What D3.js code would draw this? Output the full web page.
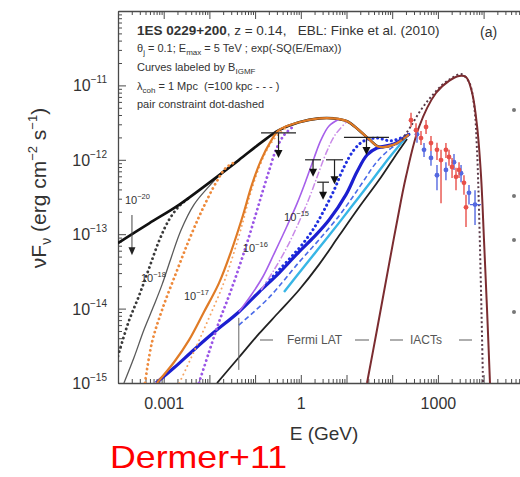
<!DOCTYPE html>
<html><head><meta charset="utf-8">
<script src="https://cdn.jsdelivr.net/npm/d3@7"></script>
<style>body{margin:0;background:#fff}svg{display:block}text{font-family:"Liberation Sans",Arial,sans-serif}</style>
</head><body><svg id="c" width="520" height="477"></svg>
<script>
// ---------- axis ticks ----------
const xTickValues = [1e-3, 1, 1e3];
const xTickLabels = ["0.001", "1", "1000"];
const yTickValues = [1e-11, 1e-12, 1e-13, 1e-14, 1e-15];
const yTickExps = ["-11", "-12", "-13", "-14", "-15"];

// ---------- shared high-energy envelope ----------
const envE = [0.333, 0.914, 2.5, 5.3, 10.3, 18.8, 31, 51, 109, 233];
const envF = [2.5e-12, 3.2e-12, 3.6e-12, 3.6e-12, 3.3e-12, 2.5e-12, 1.9e-12, 1.5e-12, 1.6e-12, 2.2e-12];

// ---------- cascade curves ----------
const b20SolidE = [1e-4, 4.8e-4, 2.2e-3, 9.8e-3, 4.4e-2, 0.135];
const b20SolidF = [7.6e-14, 1.4e-13, 2.5e-13, 4.9e-13, 9.9e-13, 1.7e-12];
const b20DotE = [1e-4, 1.7e-4, 2.9e-4, 4.8e-4, 7.9e-4, 1.3e-3, 2.2e-3, 3.6e-3];
const b20DotF = [2.3e-15, 6.6e-15, 1.5e-14, 3.5e-14, 8.1e-14, 1.55e-13, 2.4e-13, 3.07e-13];
const b18GrayE = [1.35e-4, 2.24e-4, 3.7e-4, 6.1e-4, 9.2e-4, 1.45e-3, 2.4e-3, 4.6e-3, 9.8e-3, 2.1e-2];
const b18GrayF = [1e-15, 2.2e-15, 5.2e-15, 1.1e-14, 2.1e-14, 4.8e-14, 1.14e-13, 2.5e-13, 4.4e-13, 7.3e-13];
const orangeDotE = [3.9e-4, 5.5e-4, 9.2e-4, 1.86e-3, 3.6e-3, 6.9e-3, 1.39e-2, 2.3e-2, 4.0e-2];
const orangeDotF = [1e-15, 3.45e-15, 9.6e-15, 3.0e-14, 8.4e-14, 2.1e-13, 4.9e-13, 7.8e-13, 9.6e-13];
const orangeSolidE = [7.1e-4, 1.68e-3, 3.6e-3, 7.6e-3, 1.62e-2, 2.97e-2, 5.2e-2, 8.5e-2, 0.135, 0.212];
const orangeSolidF = [1e-15, 1.9e-15, 3.8e-15, 9.0e-15, 2.2e-14, 5.8e-14, 1.65e-13, 4.6e-13, 9.9e-13, 1.7e-12];
const orangeLightE = [2.2e-3, 4.8e-3, 9.8e-3, 1.9e-2, 3.3e-2, 5.4e-2, 8.1e-2, 0.122, 0.182, 0.30, 0.50];
const orangeLightF = [1e-15, 2.8e-15, 7.5e-15, 1.95e-14, 5.2e-14, 1.46e-13, 3.7e-13, 7.8e-13, 1.36e-12, 2.1e-12, 2.76e-12];
const purpleDotE = [5.9e-3, 9.8e-3, 1.62e-2, 2.7e-2, 4.4e-2, 7.0e-2, 0.105, 0.149, 0.212, 0.286, 0.43, 0.71];
const purpleDotF = [1e-15, 2.6e-15, 6.6e-15, 1.5e-14, 3.5e-14, 8.4e-14, 1.9e-13, 3.9e-13, 7.8e-13, 1.36e-12, 2.15e-12, 2.85e-12];
const violetE = [4.4e-2, 8.1e-2, 0.149, 0.272, 0.50, 0.83, 1.30, 1.95, 2.77, 4.14, 6.85];
const violetF = [9.0e-15, 1.5e-14, 2.7e-14, 5.8e-14, 1.29e-13, 2.6e-13, 5.3e-13, 1.06e-12, 1.85e-12, 2.85e-12, 3.5e-12];
const violet2E = [0.135, 0.259, 0.50, 0.914, 1.59, 2.50, 3.74, 5.6, 9.75];
const violet2F = [1.78e-14, 3.3e-14, 6.7e-14, 1.46e-13, 3.26e-13, 6.9e-13, 1.31e-12, 2.15e-12, 3.2e-12];
const blueDotE = [0.182, 0.333, 0.61, 1.06, 1.95, 3.22, 5.33, 8.83, 14.6, 24.2, 46.5, 94, 233];
const blueDotF = [2.2e-14, 3.3e-14, 4.9e-14, 7.2e-14, 1.21e-13, 2.1e-13, 3.9e-13, 8.0e-13, 1.36e-12, 1.8e-12, 1.96e-12, 1.8e-12, 2.2e-12];
const blueSolidE = [6.8e-4, 1.68e-3, 4.6e-3, 1.26e-2, 4.4e-2, 0.122, 0.333, 0.914, 1.95, 4.14, 9.75, 17.0, 28.1, 46.5, 109, 233];
const blueSolidF = [1e-15, 1.6e-15, 2.8e-15, 4.8e-15, 9.0e-15, 1.67e-14, 3.0e-14, 5.8e-14, 9.2e-14, 1.55e-13, 3.4e-13, 6.9e-13, 1.16e-12, 1.44e-12, 1.63e-12, 2.2e-12];
const blueDashE = [4.4e-2, 0.20, 0.914, 2.50, 6.85, 13.2, 24.2, 44.2, 85, 181];
const blueDashF = [6.0e-15, 1.4e-14, 4.2e-14, 8.4e-14, 1.76e-13, 3.07e-13, 5.3e-13, 9.1e-13, 1.36e-12, 1.85e-12];
const cyanE = [0.43, 0.914, 2.50, 6.85, 16.1, 36.1, 85, 200];
const cyanF = [1.67e-14, 3.0e-14, 6.5e-14, 1.42e-13, 2.8e-13, 5.3e-13, 1.06e-12, 2.0e-12];
const blackLowE = [1.47e-2, 4.4e-2, 0.122, 0.333, 0.914, 2.50, 6.85, 18.8, 51, 109, 211];
const blackLowF = [1e-15, 2.2e-15, 4.6e-15, 9.0e-15, 1.78e-14, 3.9e-14, 9.5e-14, 2.3e-13, 5.3e-13, 1.06e-12, 1.9e-12];

// ---------- intrinsic spectra ----------
const brownE = [28.1, 46.5, 85, 127, 200, 386, 908, 1750, 2900, 4120, 5570, 7170, 8770, 10200, 11900, 13800];
const brownF = [1e-15, 5.2e-15, 3.9e-14, 1.46e-13, 5.9e-13, 2.76e-12, 7.9e-12, 1.15e-11, 1.34e-11, 1.30e-11, 8.1e-12, 2.9e-12, 6.2e-13, 8.4e-14, 9.6e-15, 1e-15];
const dottedE = [164, 258, 427, 706, 1230, 2040, 3210, 4790, 6170, 7170, 7930, 8770, 9710];
const dottedF = [1.85e-12, 2.85e-12, 4.7e-12, 7.0e-12, 1.01e-11, 1.26e-11, 1.42e-11, 1.11e-11, 5.5e-12, 1.36e-12, 2.1e-13, 1.78e-14, 1e-15];

// ---------- IACT data ----------
const redE = [258, 332, 427, 550, 706, 955, 1170, 1500, 1750, 2040, 2490, 2900, 3720, 4120];
const redF = [3.4e-12, 2.5e-12, 1.96e-12, 2.76e-12, 1.68e-12, 1.36e-12, 9.9e-13, 1.36e-12, 1.09e-12, 8.0e-13, 5.9e-13, 7.3e-13, 4.9e-13, 2.3e-13];
const redLo = [2.76e-12, 2.0e-12, 1.58e-12, 2.22e-12, 1.31e-12, 9.9e-13, 2.6e-13, 1.06e-12, 8.3e-13, 5.7e-13, 3.9e-13, 5.7e-13, 3.4e-13, 1.25e-13];
const redHi = [4.3e-12, 3.1e-12, 2.44e-12, 3.43e-12, 2.09e-12, 1.70e-12, 1.36e-12, 1.68e-12, 1.36e-12, 1.06e-12, 7.8e-13, 9.3e-13, 6.2e-13, 3.4e-13];
const blueE = [349, 497, 706, 955, 1500, 2250, 3210, 4790, 6490];
const blueF = [2.2e-12, 1.36e-12, 1.06e-12, 6.2e-13, 7.3e-13, 9.3e-13, 6.6e-13, 3.6e-13, 2.5e-13];
const blueLo = [1.7e-12, 1.09e-12, 8.3e-13, 3.9e-13, 5.3e-13, 7.3e-13, 5.0e-13, 2.5e-13, 1.33e-13];
const blueHi = [2.67e-12, 1.68e-12, 1.31e-12, 8.5e-13, 9.3e-13, 1.2e-12, 8.5e-13, 4.6e-13, 3.9e-13];

// ---------- Fermi upper limits ----------
const ulLo = [0.135, 1.24, 2.28, 3.56, 8.8];
const ulHi = [0.785, 2.77, 4.14, 8.4, 85];
const ulF = [2.3e-12, 1.0e-12, 5.0e-13, 1.0e-12, 2.0e-12];
const ulTip = [1.06e-12, 5.9e-13, 2.9e-13, 4.7e-13, 1.16e-12];

// ---------- curve labels (B in G) ----------
const labelExp = ["-20", "-18", "-17", "-16", "-15"];
const labelE = [1.42e-4, 3.18e-4, 2.78e-3, 5.4e-2, 0.43];
const labelF = [2.55e-13, 2.28e-14, 1.3e-14, 5.8e-14, 1.5e-13];

// ================= drawing =================
const svg = d3.select("#c");
const x = d3.scaleLog().domain([1e-4, 1e5]).range([118, 529.3]);
const y = d3.scaleLog().domain([1e-15, 1e-10]).range([383, 11]);
const X0 = 118, X1 = 529.3, Y0 = 383, Y1 = 11;

svg.append("rect").attr("width", 520).attr("height", 477).attr("fill", "#fff");
svg.append("defs").append("clipPath").attr("id", "plot")
  .append("rect").attr("x", X0).attr("y", Y1).attr("width", X1 - X0).attr("height", Y0 - Y1);

// axes
const decX = d3.range(-4, 6).map(e => Math.pow(10, e));
const decY = d3.range(-15, -9).map(e => Math.pow(10, e));
const minorX = [], minorY = [];
d3.range(-4, 5).forEach(e => d3.range(2, 10).forEach(m => minorX.push(m * Math.pow(10, e))));
d3.range(-15, -10).forEach(e => d3.range(2, 10).forEach(m => minorY.push(m * Math.pow(10, e))));
const axCol = "#4a4a4a";
function styleAxis(sel) {
  sel.selectAll("line").attr("stroke", axCol).attr("stroke-width", 1);
  sel.selectAll(".domain").attr("stroke", axCol).attr("stroke-width", 1.3);
}
const xLabel = d => { const i = xTickValues.findIndex(v => Math.abs(Math.log10(v) - Math.log10(d)) < 1e-6); return i >= 0 ? xTickLabels[i] : ""; };
svg.append("g").attr("transform", `translate(0,${Y0})`)
  .call(d3.axisBottom(x).tickValues(decX).tickSize(-8).tickSizeOuter(0).tickPadding(15).tickFormat(xLabel))
  .call(styleAxis)
  .call(g => g.selectAll("text").attr("font-size", 16).attr("fill", "#333").attr("font-family", "Liberation Sans, Arial, sans-serif"));
svg.append("g").attr("transform", `translate(0,${Y0})`)
  .call(d3.axisBottom(x).tickValues(minorX).tickSize(-4).tickFormat(""))
  .call(g => g.select(".domain").remove()).call(styleAxis);
svg.append("g").attr("transform", `translate(0,${Y1})`)
  .call(d3.axisTop(x).tickValues(decX).tickSize(-8).tickSizeOuter(0).tickFormat("")).call(styleAxis);
svg.append("g").attr("transform", `translate(0,${Y1})`)
  .call(d3.axisTop(x).tickValues(minorX).tickSize(-4).tickFormat(""))
  .call(g => g.select(".domain").remove()).call(styleAxis);
svg.append("g").attr("transform", `translate(${X0},0)`)
  .call(d3.axisLeft(y).tickValues(decY).tickSize(-8).tickSizeOuter(0).tickFormat("")).call(styleAxis);
svg.append("g").attr("transform", `translate(${X0},0)`)
  .call(d3.axisLeft(y).tickValues(minorY).tickSize(-4).tickFormat(""))
  .call(g => g.select(".domain").remove()).call(styleAxis);
svg.append("g").attr("transform", `translate(${X1},0)`)
  .call(d3.axisRight(y).tickValues(decY).tickSize(-8).tickSizeOuter(0).tickFormat("")).call(styleAxis);

// y tick labels
yTickValues.forEach((v, i) => {
  const t = svg.append("text").attr("x", 107).attr("y", y(v) + 6).attr("text-anchor", "end").attr("fill", "#333");
  t.append("tspan").attr("font-size", 16).text("10");
  t.append("tspan").attr("font-size", 10).attr("dy", -8).text(yTickExps[i].replace("-", "\u2212"));
});

// axis titles
svg.append("text").attr("x", 324).attr("y", 440).attr("text-anchor", "middle")
  .attr("font-size", 19).attr("fill", "#333").text("E (GeV)");
const yl = svg.append("text").attr("transform", "translate(46,188) rotate(-90)")
  .attr("text-anchor", "middle").attr("font-size", 21).attr("fill", "#333");
yl.append("tspan").text("\u03bdF");
yl.append("tspan").attr("font-size", 14).attr("dy", 5).text("\u03bd");
yl.append("tspan").attr("dy", -5).text(" (erg cm");
yl.append("tspan").attr("font-size", 13).attr("dy", -9).text("\u22122");
yl.append("tspan").attr("dy", 9).text(" s");
yl.append("tspan").attr("font-size", 13).attr("dy", -9).text("\u22121");
yl.append("tspan").attr("dy", 9).text(")");

// curves
const g = svg.append("g").attr("clip-path", "url(#plot)");
const line = d3.line().x(d => x(d[0])).y(d => y(d[1])).curve(d3.curveCatmullRom.alpha(0.5));
function curve(E, F, c, w, dash, cap) {
  g.append("path").datum(d3.zip(E, F)).attr("d", line).attr("fill", "none")
    .attr("stroke", c).attr("stroke-width", w)
    .attr("stroke-dasharray", dash || null).attr("stroke-linecap", cap || "butt")
    .attr("stroke-linejoin", "round");
}
const DOT = "0.1,4.6";
curve(b18GrayE, b18GrayF, "#5a5a5a", 1.3);
curve(b20DotE, b20DotF, "#3a3a3a", 2.8, DOT, "round");
curve(b20SolidE.concat(envE), b20SolidF.concat(envF), "#111", 2.6);
curve(blackLowE, blackLowF, "#222", 1.8);
curve(cyanE, cyanF, "#38b6e6", 2.4);
curve(blueDashE, blueDashF, "#4a6ae8", 1.6, "5,3");
curve(blueSolidE, blueSolidF, "#1c1fd0", 3.2);
curve(blueDotE, blueDotF, "#2030e0", 3, DOT, "round");
curve(violet2E, violet2F, "#c98ae8", 1.5, "7,2,1.5,2");
curve(violetE, violetF, "#a660ea", 1.6);
curve(purpleDotE, purpleDotF, "#9a55e6", 2.8, DOT, "round");
curve(orangeLightE, orangeLightF, "#f5a564", 1.9, DOT, "round");
curve(orangeDotE, orangeDotF, "#ee8a3c", 2.8, DOT, "round");
curve(orangeSolidE.concat(envE), orangeSolidF.concat(envF), "#e07b26", 2.2);
curve(dottedE, dottedF, "#5a3a48", 2, "2,2.5");
curve(brownE, brownF, "#7b2c30", 2);

// IACT data
const pts = svg.append("g").attr("clip-path", "url(#plot)");
function dataSet(E, F, lo, hi, col) {
  E.forEach((e, i) => {
    pts.append("line").attr("x1", x(e)).attr("x2", x(e)).attr("y1", y(lo[i])).attr("y2", y(hi[i]))
      .attr("stroke", col).attr("stroke-width", 1.4);
    pts.append("circle").attr("cx", x(e)).attr("cy", y(F[i])).attr("r", 2.4).attr("fill", col);
  });
}
dataSet(blueE, blueF, blueLo, blueHi, "#5468e0");
dataSet(redE, redF, redLo, redHi, "#e8504a");
pts.append("line").attr("x1", x(blueE[8]) - 5).attr("x2", x(blueE[8]) + 6)
  .attr("y1", y(blueF[8])).attr("y2", y(blueF[8])).attr("stroke", "#5468e0").attr("stroke-width", 1.4);

// upper limits
const ul = svg.append("g");
ulLo.forEach((lo, i) => {
  const xc = x(Math.sqrt(lo * ulHi[i]));
  ul.append("line").attr("x1", x(lo)).attr("x2", x(ulHi[i])).attr("y1", y(ulF[i])).attr("y2", y(ulF[i]))
    .attr("stroke", "#222").attr("stroke-width", 1.2);
  ul.append("line").attr("x1", xc).attr("x2", xc).attr("y1", y(ulF[i])).attr("y2", y(ulTip[i]) - 6)
    .attr("stroke", "#222").attr("stroke-width", 1.2);
  const ty = y(ulTip[i]);
  ul.append("path").attr("d", `M${xc - 4},${ty - 8}L${xc + 4},${ty - 8}L${xc},${ty}Z`).attr("fill", "#111");
});

// annotation pointers
const ptrX = x(2.02e-4), ptrTop = y(1.81e-13), ptrTip = y(5.2e-14);
svg.append("line").attr("x1", ptrX).attr("x2", ptrX).attr("y1", ptrTop).attr("y2", ptrTip - 6).attr("stroke", "#444").attr("stroke-width", 1);
svg.append("path").attr("d", `M${ptrX - 3.5},${ptrTip - 8}L${ptrX + 3.5},${ptrTip - 8}L${ptrX},${ptrTip}Z`).attr("fill", "#222");
svg.append("line").attr("x1", x(4.4e-2)).attr("x2", x(4.4e-2)).attr("y1", y(7.5e-15)).attr("y2", y(1.5e-15))
  .attr("stroke", "#666").attr("stroke-width", 1);

// curve labels
labelExp.forEach((s, i) => {
  const t = svg.append("text").attr("x", x(labelE[i])).attr("y", y(labelF[i])).attr("fill", "#333");
  t.append("tspan").attr("font-size", 11).text("10");
  t.append("tspan").attr("font-size", 7.5).attr("dy", -5).text(s.replace("-", "\u2212"));
});

// instrument legend
const lg = svg.append("g").attr("stroke", "#9a9a9a").attr("stroke-width", 1.6);
[[260, 273], [355, 369], [390, 403], [459, 472]].forEach(p =>
  lg.append("line").attr("x1", p[0]).attr("x2", p[1]).attr("y1", 340).attr("y2", 340));
svg.append("text").attr("x", 287).attr("y", 344).attr("font-size", 12).attr("fill", "#555").text("Fermi LAT");
svg.append("text").attr("x", 410).attr("y", 344).attr("font-size", 12).attr("fill", "#555").text("IACTs");

// header text
const tx = 137, col = "#333";
const l1 = svg.append("text").attr("x", tx).attr("y", 35).attr("font-size", 13.5).attr("fill", col).style("white-space", "pre");
l1.append("tspan").attr("font-weight", "bold").text("1ES 0229+200");
l1.append("tspan").text(", z = 0.14,   EBL: Finke et al. (2010)");
svg.append("text").attr("x", 480).attr("y", 37).attr("font-size", 14).attr("fill", col).text("(a)");
const l2 = svg.append("text").attr("x", tx).attr("y", 52).attr("font-size", 11).attr("fill", col).style("white-space", "pre");
l2.append("tspan").text("\u03b8");
l2.append("tspan").attr("font-size", 8).attr("dy", 3).text("j");
l2.append("tspan").attr("dy", -3).text(" = 0.1; E");
l2.append("tspan").attr("font-size", 8).attr("dy", 3).text("max");
l2.append("tspan").attr("dy", -3).text(" = 5 TeV ; exp(-SQ(E/Emax))");
const l3 = svg.append("text").attr("x", tx).attr("y", 71).attr("font-size", 11).attr("fill", col);
l3.append("tspan").text("Curves labeled by B");
l3.append("tspan").attr("font-size", 8).attr("dy", 3).text("IGMF");
const l4 = svg.append("text").attr("x", tx).attr("y", 90).attr("font-size", 11).attr("fill", col).style("white-space", "pre");
l4.append("tspan").text("\u03bb");
l4.append("tspan").attr("font-size", 8).attr("dy", 3).text("coh");
l4.append("tspan").attr("dy", -3).text(" = 1 Mpc  (=100 kpc - - - )");
svg.append("text").attr("x", tx).attr("y", 108).attr("font-size", 11).attr("fill", col).text("pair constraint dot-dashed");

// slide residue on the right edge
[110, 196, 240, 312].forEach(v => svg.append("circle").attr("cx", 514).attr("cy", v).attr("r", 2).attr("fill", "#777"));

// credit
svg.append("text").attr("x", 110).attr("y", 468).attr("font-size", 32).attr("fill", "#ff0000")
  .attr("font-family", "DejaVu Sans, sans-serif").attr("textLength", 177).attr("lengthAdjust", "spacingAndGlyphs")
  .text("Dermer+11");
</script></body></html>
